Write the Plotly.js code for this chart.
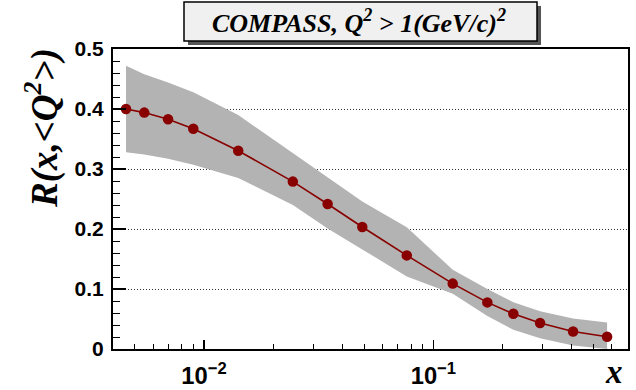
<!DOCTYPE html>
<html>
<head>
<meta charset="utf-8">
<script src="https://cdn.plot.ly/plotly-3.0.1.min.js"></script>
<style>
html,body{margin:0;padding:0;background:#fff;}
#chart{width:636px;height:390px;}
</style>
</head>
<body>
<div id="chart"></div>
<script>
// Data
const xValues = [0.00457, 0.00549, 0.00697, 0.00898, 0.0141, 0.0244, 0.0346, 0.0490, 0.0766, 0.1215, 0.172, 0.2233, 0.292, 0.4067, 0.5723];
const rValues = [0.400, 0.394, 0.383, 0.367, 0.3305, 0.279, 0.2417, 0.2033, 0.156, 0.109, 0.0777, 0.0588, 0.0433, 0.0293, 0.0205];
const bandUpper = [0.472, 0.458, 0.444, 0.428, 0.390, 0.326, 0.286, 0.246, 0.203, 0.132, 0.100, 0.078, 0.063, 0.051, 0.044];
const bandLower = [0.328, 0.324, 0.317, 0.307, 0.285, 0.240, 0.201, 0.166, 0.121, 0.092, 0.055, 0.032, 0.018, 0.006, 0.000];
const yTickValues = [0, 0.1, 0.2, 0.3, 0.4, 0.5];
const yTickLabels = ['0', '0.1', '0.2', '0.3', '0.4', '0.5'];
const titleText = '<b><i>COMPASS, Q<sup>2</sup> &gt; 1(GeV/c)<sup>2</sup></i></b>';
const yTitleText = '<b><i>R(x,&lt;Q<sup>2</sup>&gt;)</i></b>';
const xTitleText = '<b><i>x</i></b>';

const bandX = xValues.concat(xValues.slice().reverse());
const bandY = bandUpper.concat(bandLower.slice().reverse());

const traces = [
  {
    x: bandX, y: bandY, type: 'scatter', mode: 'lines',
    fill: 'toself', fillcolor: '#b3b3b3',
    line: {width: 0, color: '#b3b3b3'}, hoverinfo: 'skip', showlegend: false
  },
  {
    x: xValues, y: rValues, type: 'scatter', mode: 'lines+markers',
    line: {color: '#880000', width: 1.6},
    marker: {color: '#880000', size: 10.5},
    showlegend: false
  }
];

const serif = 'Liberation Serif, Times New Roman, serif';
const sans = 'Liberation Sans, Arial, sans-serif';

const layout = {
  width: 636, height: 390,
  margin: {l: 113, r: 8, t: 49, b: 41},
  paper_bgcolor: '#ffffff', plot_bgcolor: '#ffffff',
  showlegend: false,
  xaxis: {
    type: 'log',
    range: [Math.log10(0.00401), Math.log10(0.706)],
    dtick: 1,
    exponentformat: 'power',
    showgrid: false, zeroline: false,
    showline: true, mirror: true, linecolor: '#000', linewidth: 2,
    ticks: 'inside', ticklen: 9, tickwidth: 1.2, tickcolor: '#000',
    minor: {ticks: 'inside', ticklen: 5, tickwidth: 1, tickcolor: '#000', dtick: 'D1', showgrid: false},
    tickfont: {family: sans, size: 19, color: '#000', weight: 'bold'},
    ticklabelstandoff: 5
  },
  yaxis: {
    range: [0, 0.5],
    tickvals: yTickValues, ticktext: yTickLabels,
    showgrid: true, gridcolor: '#333', gridwidth: 1, griddash: '1px,2px',
    zeroline: false,
    showline: true, mirror: true, linecolor: '#000', linewidth: 2,
    ticks: 'inside', ticklen: 13, tickwidth: 1.2, tickcolor: '#000',
    minor: {ticks: 'inside', ticklen: 7, tickwidth: 1, tickcolor: '#000', dtick: 0.02, showgrid: false},
    tickfont: {family: sans, size: 21, color: '#000', weight: 'bold'},
    ticklabelstandoff: 3
  },
  shapes: [
    {type: 'rect', xref: 'paper', yref: 'paper', layer: 'above',
     x0: (188 - 113) / 515, x1: (541 - 113) / 515,
     y0: (349 - 45) / 300, y1: (349 - 6) / 300,
     fillcolor: '#555', line: {width: 0}},
    {type: 'rect', xref: 'paper', yref: 'paper', layer: 'above',
     x0: (184 - 113) / 515, x1: (537 - 113) / 515,
     y0: (349 - 41) / 300, y1: (349 - 2) / 300,
     fillcolor: '#f0f0f0', line: {width: 1.5, color: '#000'}}
  ],
  annotations: [
    {text: titleText, xref: 'paper', yref: 'paper',
     x: (359 - 113) / 515, y: (349 - 21.5) / 300, xanchor: 'center', yanchor: 'middle',
     showarrow: false, font: {family: serif, size: 26, color: '#000'}},
    {text: yTitleText, xref: 'paper', yref: 'paper', textangle: -90,
     x: (42 - 113) / 515, y: (349 - 46) / 300, xanchor: 'center', yanchor: 'top',
     showarrow: false, font: {family: serif, size: 37, color: '#000'}},
    {text: xTitleText, xref: 'paper', yref: 'paper',
     x: (614 - 113) / 515, y: (349 - 372) / 300, xanchor: 'center', yanchor: 'middle',
     showarrow: false, font: {family: serif, size: 33, color: '#000'}}
  ]
};

Plotly.newPlot('chart', traces, layout, {staticPlot: true, displayModeBar: false});
</script>
</body>
</html>
